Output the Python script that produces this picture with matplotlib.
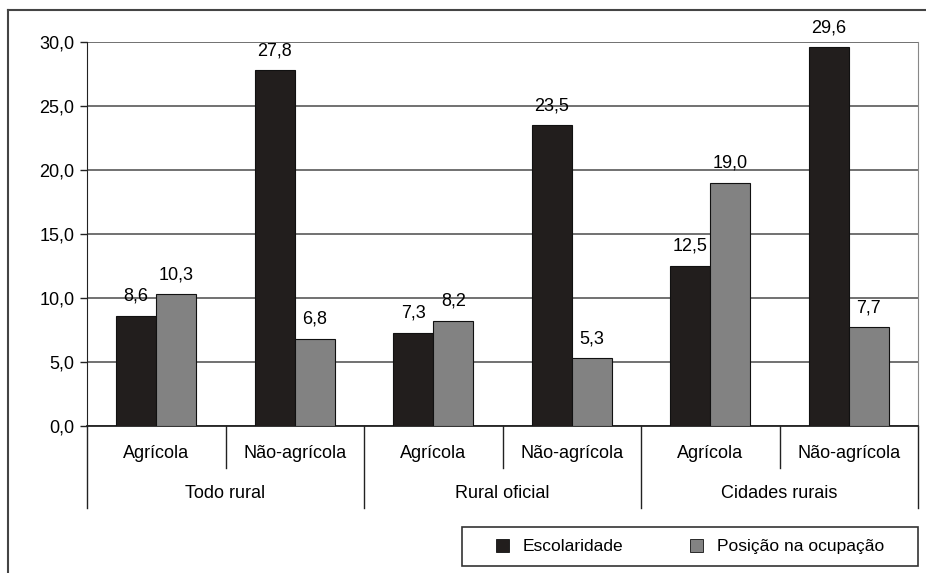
"""
Escolaridade vs posição na ocupação, por tipo de área rural.
"""
import matplotlib
matplotlib.use("Agg")
import matplotlib.pyplot as plt
import matplotlib.transforms as mtransforms
from matplotlib.patches import Rectangle, Patch
from matplotlib.lines import Line2D

# data
groups = ["Todo rural", "Rural oficial", "Cidades rurais"]
categories = ["Agrícola", "Não-agrícola"] * 3
escolaridade = [8.6, 27.8, 7.3, 23.5, 12.5, 29.6]
posicao = [10.3, 6.8, 8.2, 5.3, 19.0, 7.7]
series_names = ["Escolaridade", "Posição na ocupação"]
yticks = [0, 5, 10, 15, 20, 25, 30]

W, H = 926, 573
plt.rcParams["font.family"] = ["Liberation Sans", "DejaVu Sans"]
plt.rcParams["font.size"] = 13

fig = plt.figure(figsize=(W / 100, H / 100), dpi=100)
ax = fig.add_axes([87 / W, (H - 426) / H, (918 - 87) / W, (426 - 42) / H])

dark = "#221e1d"
grey = "#828282"
bw = 0.29
x = list(range(len(categories)))
b1 = ax.bar([i - bw / 2 for i in x], escolaridade, bw, color=dark, edgecolor="#111111", linewidth=0.8, zorder=3)
b2 = ax.bar([i + bw / 2 for i in x], posicao, bw, color=grey, edgecolor="#111111", linewidth=0.8, zorder=3)

def fmt(v):
    return f"{v:.1f}".replace(".", ",")

for bars, vals in [(b1, escolaridade), (b2, posicao)]:
    for r, v in zip(bars, vals):
        ax.annotate(fmt(v), (r.get_x() + r.get_width() / 2, v), xytext=(0, 8),
                    textcoords="offset points", ha="center", va="bottom", fontsize=13)

ax.set_xlim(-0.5, len(categories) - 0.5)
ax.set_ylim(0, 30)
ax.set_yticks(yticks)
ax.set_yticklabels([fmt(t) for t in yticks])
ax.tick_params(axis="y", length=5, width=1, direction="out", pad=4, color="#222222", labelsize=13)
ax.set_xticks([])
ax.yaxis.grid(True, color="#4a4a4a", linewidth=1.1, zorder=0)
ax.set_axisbelow(True)
ax.spines["top"].set_visible(False)
ax.spines["left"].set_color("#222222")
ax.spines["bottom"].set_color("#222222")
ax.spines["bottom"].set_linewidth(1.3)
ax.spines["right"].set_color("#888888")

# category and group labels below the axis
trans = mtransforms.blended_transform_factory(ax.transData, fig.transFigure)
def fy(py):
    return (H - py) / H

for i, c in enumerate(categories):
    ax.text(i, fy(453), c, transform=trans, ha="center", va="center", fontsize=13)
    if i % 2 == 0:
        ax.add_line(Line2D([i + 0.5, i + 0.5], [fy(426), fy(468)], transform=trans,
                           color="#222222", linewidth=1, clip_on=False))
for g, name in enumerate(groups):
    ax.text(2 * g + 0.5, fy(493), name, transform=trans, ha="center", va="center", fontsize=13)
for k in range(len(groups) + 1):
    xx = 2 * k - 0.5
    ax.add_line(Line2D([xx, xx], [fy(426), fy(508)], transform=trans,
                       color="#222222", linewidth=1, clip_on=False))

# outer frame (cropped at right and bottom)
fig.add_artist(Line2D([8 / W, 8 / W], [fy(10), 0], transform=fig.transFigure, color="#444444", linewidth=1.5))
fig.add_artist(Line2D([8 / W, 1], [fy(10), fy(10)], transform=fig.transFigure, color="#444444", linewidth=1.5))

# legend box
fig.add_artist(Rectangle((462 / W, fy(566)), (918 - 462) / W, (566 - 527) / H,
                         transform=fig.transFigure, fill=False, edgecolor="#333333", linewidth=1.2))
handles = [Patch(facecolor=dark, edgecolor="#111111", linewidth=0.6),
           Patch(facecolor=grey, edgecolor="#111111", linewidth=0.6)]
fig.legend(handles, series_names, loc="center", bbox_to_anchor=(690 / W, fy(546.5)),
           ncol=2, frameon=False, handlelength=0.75, handleheight=0.75,
           handletextpad=0.8, columnspacing=3.8, fontsize=12.5)

fig.savefig("out.png", dpi=100)
